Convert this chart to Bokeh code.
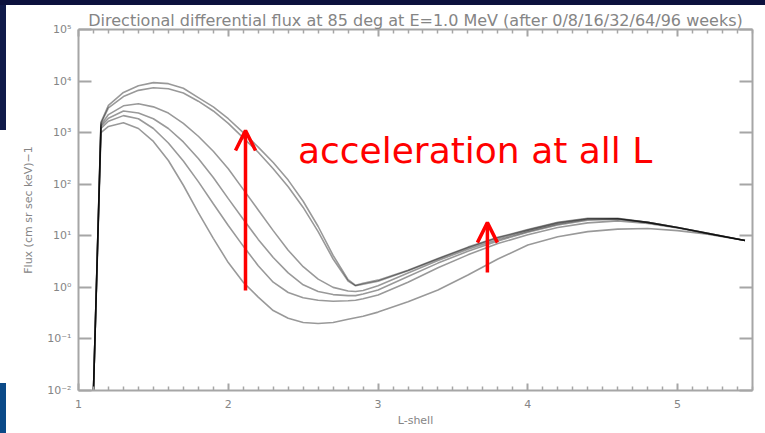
from bokeh.plotting import figure
from bokeh.layouts import column, row
from bokeh.models import (LinearAxis, LogAxis, FixedTicker, CustomJSTickFormatter,
                          Label, Arrow, OpenHead, Title, Spacer)
from bokeh.embed import file_html
from bokeh.resources import INLINE

# L-shell sample points shared by all curves
l_shell = [1.10, 1.15, 1.2, 1.3, 1.4, 1.5, 1.6, 1.7, 1.8, 1.9, 2.0, 2.1, 2.2, 2.3,
           2.4, 2.5, 2.6, 2.7, 2.8, 2.85, 2.9, 3.0, 3.2, 3.4, 3.6, 3.8, 4.0, 4.2,
           4.4, 4.6, 4.8, 5.0, 5.2, 5.45]

# log10 of directional differential flux after 0/8/16/32/64/96 weeks
log_flux_w0 = [-2, 3.00, 3.12, 3.19, 3.08, 2.83, 2.46, 1.98, 1.45, 0.95, 0.48, 0.10, -0.19,
               -0.45, -0.60, -0.68, -0.70, -0.68, -0.62, -0.59, -0.56, -0.48, -0.28, -0.05,
               0.24, 0.55, 0.82, 0.98, 1.08, 1.13, 1.14, 1.10, 1.03, 0.91]
log_flux_w8 = [-2, 3.08, 3.22, 3.33, 3.27, 3.08, 2.80, 2.45, 2.05, 1.62, 1.20, 0.80, 0.42,
               0.10, -0.10, -0.20, -0.25, -0.27, -0.26, -0.25, -0.22, -0.15, 0.10, 0.38,
               0.63, 0.85, 1.02, 1.16, 1.25, 1.29, 1.24, 1.15, 1.04, 0.91]
log_flux_w16 = [-2, 3.12, 3.28, 3.42, 3.38, 3.27, 3.08, 2.82, 2.50, 2.13, 1.72, 1.32, 0.93,
                0.58, 0.28, 0.05, -0.08, -0.14, -0.16, -0.16, -0.13, -0.05, 0.21, 0.47,
                0.70, 0.90, 1.07, 1.21, 1.30, 1.32, 1.26, 1.16, 1.05, 0.91]
log_flux_w32 = [-2, 3.15, 3.35, 3.52, 3.56, 3.50, 3.38, 3.18, 2.93, 2.64, 2.30, 1.90, 1.50,
                1.10, 0.72, 0.40, 0.16, 0.00, -0.07, -0.08, -0.06, 0.03, 0.28, 0.52,
                0.74, 0.93, 1.09, 1.23, 1.32, 1.33, 1.26, 1.16, 1.05, 0.91]
log_flux_w64 = [-2, 3.18, 3.48, 3.70, 3.82, 3.87, 3.85, 3.77, 3.61, 3.42, 3.18, 2.90, 2.62,
                2.30, 1.95, 1.55, 1.08, 0.55, 0.12, 0.03, 0.06, 0.12, 0.32, 0.55,
                0.77, 0.96, 1.11, 1.25, 1.33, 1.33, 1.26, 1.16, 1.05, 0.91]
log_flux_w96 = [-2, 3.20, 3.53, 3.78, 3.91, 3.97, 3.95, 3.86, 3.68, 3.50, 3.27, 3.00, 2.72,
                2.42, 2.08, 1.67, 1.18, 0.62, 0.15, 0.04, 0.08, 0.14, 0.33, 0.56,
                0.78, 0.97, 1.12, 1.26, 1.34, 1.34, 1.26, 1.16, 1.05, 0.91]

x_major = [1, 2, 3, 4, 5]
x_minor = [round(1 + 0.1 * i, 1) for i in range(46) if i % 10 != 0]
y_major = [1e-2, 1e-1, 1e0, 1e1, 1e2, 1e3, 1e4, 1e5]

# annotation arrows (L, flux at tail, flux at head)
arrow_inner = (2.115, 0.87, 1100.0)
arrow_outer = (3.73, 1.95, 18.0)

GREY_TXT = "#858585"
GREY_AX = "#a6a6a6"
FONT = "DejaVu Sans"

p = figure(width=759, height=428, frame_width=674, frame_height=361,
           x_range=(1, 5.5), y_range=(1e-2, 1e5), y_axis_type="log",
           output_backend="svg", toolbar_location=None,
           min_border_left=72, min_border_right=13, min_border_top=24,
           min_border_bottom=43, background_fill_color="white",
           border_fill_color="white")
p.outline_line_color = None
p.grid.visible = False

p.title = Title(text="Directional differential flux at 85 deg at E=1.0 MeV "
                     "(after 0/8/16/32/64/96 weeks)",
                align="center", text_font=FONT, text_font_size="16px",
                text_font_style="normal", text_color=GREY_TXT, standoff=0)

sup_fmt = CustomJSTickFormatter(code="""
    const e = Math.round(Math.log10(tick));
    const m = {'-':'\u207b','0':'\u2070','1':'\u00b9','2':'\u00b2','3':'\u00b3',
               '4':'\u2074','5':'\u2075','6':'\u2076','7':'\u2077','8':'\u2078','9':'\u2079'};
    return '10' + String(e).split('').map(c => m[c]).join('');
""")


def style_axis(ax, tick_in, minor_in, show_labels):
    ax.axis_line_color = GREY_AX
    ax.axis_line_width = 2
    ax.major_tick_line_color = GREY_AX
    ax.major_tick_line_width = 2
    ax.minor_tick_line_color = GREY_AX
    ax.minor_tick_line_width = 1.5
    ax.major_tick_in = tick_in
    ax.major_tick_out = 0
    ax.minor_tick_in = minor_in
    ax.minor_tick_out = 0
    ax.major_label_text_color = GREY_TXT
    ax.major_label_text_font = FONT
    ax.axis_label_text_color = GREY_TXT
    ax.axis_label_text_font = FONT
    ax.axis_label_text_font_style = "normal"
    if not show_labels:
        # mirrored frame axes carry ticks only
        ax.major_label_text_color = None
        ax.major_label_text_font_size = "1px"
        ax.major_label_standoff = 0


xb = p.xaxis[0]
xb.ticker = FixedTicker(ticks=x_major, minor_ticks=x_minor)
style_axis(xb, 7, 4, True)
xb.major_label_text_font_size = "11px"
xb.major_label_standoff = 9
xb.axis_label = "L-shell"
xb.axis_label_text_font_size = "11px"
xb.axis_label_standoff = 3

yl = p.yaxis[0]
yl.ticker = FixedTicker(ticks=y_major, minor_ticks=[])
yl.formatter = sup_fmt
style_axis(yl, 13, 0, True)
yl.major_label_text_font_size = "11px"
yl.major_label_standoff = 7
yl.axis_label = "Flux (cm sr sec keV)\u22121"
yl.axis_label_text_font_size = "11px"
yl.axis_label_standoff = 9

xt = LinearAxis(ticker=FixedTicker(ticks=x_major, minor_ticks=x_minor))
style_axis(xt, 7, 4, False)
p.add_layout(xt, "above")

yr = LogAxis(ticker=FixedTicker(ticks=y_major, minor_ticks=[]))
style_axis(yr, 13, 0, False)
p.add_layout(yr, "right")

for series in [log_flux_w0, log_flux_w8, log_flux_w16, log_flux_w32,
               log_flux_w64, log_flux_w96]:
    p.line(l_shell, [10 ** v for v in series], line_color="black",
           line_alpha=0.4, line_width=1.6)

for (lx, f0, f1) in (arrow_inner, arrow_outer):
    p.add_layout(Arrow(end=OpenHead(size=20, line_color="red", line_width=3.5),
                       x_start=lx, y_start=f0, x_end=lx, y_end=f1,
                       line_color="red", line_width=3.5))

p.add_layout(Label(x=2.465, y=452, text="acceleration at all L", text_color="red",
                   text_font=FONT, text_font_size="36px",
                   text_baseline="alphabetic"))

# slide frame around the chart panel
top_band = Spacer(width=765, height=5, styles={"background-color": "#0c113d"})
side = column(Spacer(width=6, height=125, styles={"background-color": "#101a4a"}),
              Spacer(width=6, height=253, styles={"background-color": "white"}),
              Spacer(width=6, height=50, styles={"background-color": "#0b4a88"}),
              spacing=0)
page = column(top_band, row(side, p, spacing=0), spacing=0)

open("out.html", "w").write(file_html(page, INLINE))
